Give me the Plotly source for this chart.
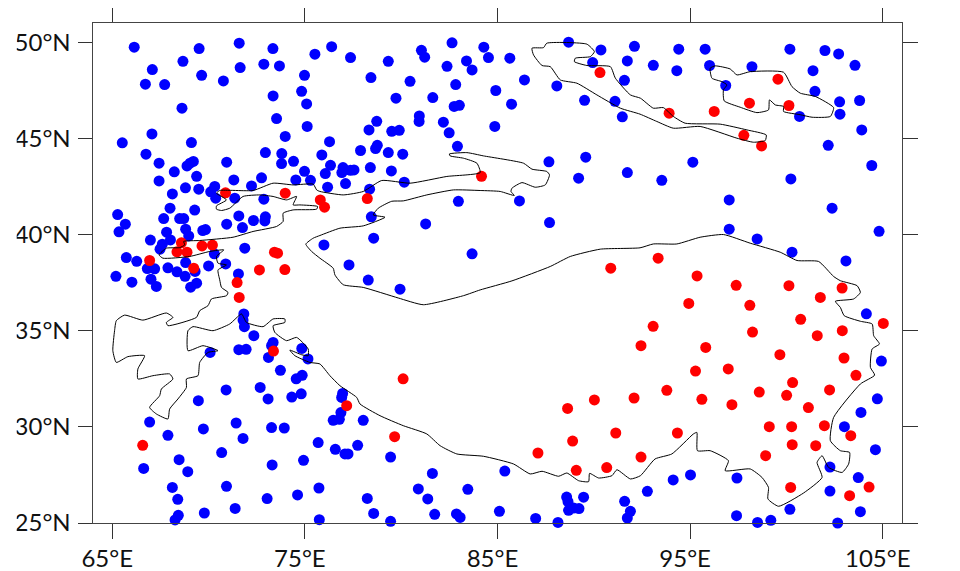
import plotly.graph_objects as go

blue_lon = [66.14,69.51,71.59,73.34,75.52,68.67,67.08,69.64,71.64,72.87,73.68,74.98,66.72,67.72,70.77,74.83,73.35,75.09,68.62,73.53,75.12,73.98,67.06,65.52,69.11,72.95,73.80,66.75,67.43,70.94,73.79,74.41,69.21,69.04,68.88,74.98,68.22,69.38,72.75,71.31,67.43,74.53,75.29,72.23,70.32,68.80,69.49,70.11,68.12,70.37,71.36,72.87,68.00,69.28,65.28,71.57,68.50,68.71,67.67,72.95,72.92,72.33,65.68,70.94,71.76,68.81,69.84,69.70,65.35,67.82,68.97,68.02,66.98,67.60,67.48,71.88,70.30,65.73,66.27,68.81,70.89,67.89,70.00,66.82,67.20,68.36,69.30,71.55,68.78,65.19,66.02,67.01,67.29,69.38,69.07,
76.39,77.37,79.33,81.05,81.22,82.64,84.29,84.53,85.64,82.38,83.39,83.68,78.43,80.46,82.83,84.91,86.40,79.73,81.64,82.75,83.02,85.73,88.08,88.69,90.37,89.94,92.11,91.74,91.59,89.52,91.10,91.48,80.94,80.93,82.19,82.49,84.86,78.73,78.33,79.51,79.90,82.92,76.28,75.88,77.89,78.76,78.67,79.33,80.08,89.58,87.67,89.21,91.74,76.33,76.06,76.98,76.92,77.37,77.55,78.40,79.49,77.11,76.18,80.16,78.36,82.97,86.14,78.45,81.27,87.70,78.57,75.99,83.68,77.29,78.29,79.94,
94.41,95.78,100.18,102.00,102.71,103.56,93.09,94.31,96.01,98.21,101.38,96.85,101.48,102.76,103.80,102.78,100.68,103.91,102.17,104.43,95.14,93.53,100.23,97.03,102.37,97.03,104.81,98.48,100.29,103.09,
71.83,71.79,71.86,72.35,73.35,73.27,73.11,71.57,71.95,70.08,74.84,75.16,73.73,74.86,74.55,72.68,70.91,73.09,74.81,74.32,69.47,66.94,71.43,73.27,73.93,69.73,67.89,71.79,75.69,70.68,68.47,74.93,73.30,66.63,68.92,68.12,70.93,75.73,68.40,74.62,73.04,71.38,69.78,68.43,68.26,75.75,
76.96,76.91,76.87,76.47,76.79,78.03,76.58,77.74,77.08,77.24,79.45,81.62,85.38,80.89,83.46,78.24,81.38,88.59,88.66,88.69,88.95,89.23,89.47,78.57,81.74,82.87,83.06,85.10,86.98,88.14,79.45,91.60,91.90,91.74,
104.15,104.93,104.72,103.87,103.01,104.62,102.26,103.73,97.43,95.02,94.12,92.78,102.26,100.18,103.84,97.41,99.19,98.50,102.66]
blue_lat = [49.74,49.67,49.95,49.67,49.38,49.01,48.58,48.28,48.68,48.86,48.77,48.28,47.82,47.80,47.99,47.45,47.21,46.79,46.57,46.03,45.62,45.10,45.23,44.77,44.78,44.26,44.21,44.18,43.71,43.76,43.69,43.81,43.80,43.71,43.57,43.29,43.26,43.03,42.95,42.84,42.79,42.84,42.82,42.53,42.50,42.43,42.36,42.22,42.11,41.89,41.89,41.84,41.37,41.27,41.04,40.97,40.83,40.83,40.83,40.92,40.71,40.73,40.54,40.54,40.36,40.28,40.26,40.21,40.14,40.12,39.93,39.72,39.71,39.50,39.24,39.29,39.00,38.80,38.61,38.54,38.47,38.27,38.37,38.23,38.22,38.06,38.08,37.95,37.83,37.83,37.52,37.68,37.30,37.47,37.26,
49.77,49.20,49.01,49.58,49.22,49.97,49.74,49.20,49.17,48.75,49.03,48.56,48.16,47.97,47.80,47.49,48.04,47.09,47.12,46.66,46.72,46.78,47.73,50.00,49.60,48.94,49.79,49.03,48.02,46.98,46.93,46.12,46.17,45.88,45.84,45.29,45.62,45.89,45.44,45.37,45.42,44.59,44.83,44.14,44.37,44.64,44.47,44.26,44.18,44.02,43.78,42.93,43.22,43.60,43.17,43.48,43.22,43.34,43.36,43.48,43.31,42.65,42.46,42.72,42.36,41.73,41.75,40.92,40.55,40.62,39.81,39.46,39.00,38.42,37.63,37.16,
49.64,49.64,49.64,49.57,49.39,48.80,48.80,48.52,48.79,48.73,48.52,47.75,47.45,46.90,46.97,46.26,46.14,45.44,44.64,43.59,43.76,42.82,42.89,41.80,41.37,40.28,40.17,39.77,39.08,38.63,
35.87,35.55,35.21,34.74,34.39,34.22,33.61,34.01,34.03,33.87,34.08,33.53,32.94,32.68,32.50,32.05,31.92,31.45,31.72,31.55,31.36,30.25,30.20,29.96,29.94,29.89,29.56,29.40,29.18,28.66,28.29,28.26,28.02,27.84,27.67,26.85,26.91,26.82,26.23,26.46,26.27,25.76,25.52,25.40,25.16,25.17,
31.74,31.53,30.74,30.34,30.39,30.34,28.83,29.04,28.59,28.59,28.43,27.58,27.70,26.77,26.75,26.28,26.25,26.35,26.11,25.66,25.78,25.75,26.34,25.50,25.45,25.47,25.29,25.61,25.24,25.03,25.09,26.13,25.61,25.26,
35.88,33.42,31.46,30.75,30.01,28.81,27.91,27.36,27.34,27.50,27.24,26.65,26.66,25.71,25.59,25.38,25.14,25.03,25.00]

red_lon = [70.88,73.98,75.80,76.02,68.59,69.66,70.20,68.36,68.88,73.42,73.58,66.94,69.23,72.64,73.96,71.48,84.17,78.24,90.32,90.88,
99.56,98.08,96.25,100.13,93.91,97.79,98.71,93.34,95.36,97.39,100.13,102.89,
71.59,73.37,66.58,80.10,77.17,79.66,88.64,90.03,92.09,92.45,91.14,88.90,87.10,89.09,90.67,92.45,
94.93,98.10,101.76,93.08,100.74,102.90,105.03,98.24,101.60,95.81,99.66,102.99,95.28,96.98,103.61,100.32,93.79,98.59,95.61,102.24,100.01,97.17,101.14,99.11,100.27,101.97,103.34,94.34,100.30,101.52,98.92,100.22,104.29,103.28]
red_lat = [42.17,42.15,41.80,41.42,39.57,39.41,39.45,39.10,39.08,39.08,39.03,38.65,38.25,38.16,38.18,37.50,43.03,41.87,48.42,38.25,
48.08,46.83,46.40,46.71,46.31,45.16,44.61,38.77,37.85,37.36,37.34,37.22,
36.73,33.94,29.04,32.50,31.10,29.49,30.96,31.40,31.50,34.22,29.68,29.26,28.64,27.74,27.88,28.43,
36.42,36.32,36.73,35.23,35.59,35.00,35.38,34.93,34.74,34.13,33.75,33.58,32.90,33.01,32.68,32.30,31.90,31.81,31.43,31.92,31.64,31.15,31.00,30.01,30.01,30.06,29.54,29.68,29.07,29.02,28.50,26.85,26.87,26.42]

main_lon = [75.78,76.82,78.03,79.16,78.55,78.81,79.51,80.11,81.33,82.71,84.10,85.14,85.87,85.70,85.75,86.27,86.96,87.48,87.70,87.56,86.79,86.35,84.27,83.41,82.50,82.54,83.23,83.93,84.10,82.37,80.46,78.99,78.03,76.99,75.78,75.61,75.43,74.39,73.35,72.31,70.58,70.41,70.93,70.41,70.41,70.67,71.10,71.79,72.66,73.35,74.05,74.57,74.39,74.74,75.66,75.61,74.39,73.87,73.87,73.53,72.31,71.27,69.54,68.71,68.76,68.50,67.81,67.43,67.63,69.02,70.06,70.79,70.41,70.49,70.93,70.49,70.58,70.67,71.01,70.93,70.15,69.97,69.54,69.37,67.89,67.81,68.15,67.81,66.59,65.64,65.21,65.12,65.03,65.21,65.81,66.68,66.33,66.33,67.11,67.98,68.15,67.55,67.46,66.94,67.29,67.89,67.98,68.41,68.85,68.85,69.45,69.54,69.97,70.49,69.71,68.93,68.93,69.19,70.23,71.10,71.71,71.97,72.83,73.35,73.96,73.96,73.35,73.44,74.05,74.57,75.17,75.17,74.83,74.22,74.48,75.26,75.78,76.30,76.82,77.69,77.86,78.90,80.11,81.33,82.02,82.89,84.27,85.83,86.70,87.31,88.17,88.60,89.21,89.73,89.78,90.25,90.94,91.20,91.90,92.42,93.18,94.05,95.17,95.35,95.38,96.04,96.99,96.82,98.12,98.73,99.07,99.04,99.59,100.89,101.85,101.59,101.85,102.19,102.89,103.23,103.28,102.80,102.28,102.45,103.84,104.58,104.36,104.45,104.83,104.53,104.45,103.84,103.00,102.80,102.54,103.49,103.84,103.67,102.80,102.45,101.67,100.55,99.68,98.12,96.73,95.52,94.31,93.09,92.40,90.34,88.78,87.74,85.75,84.10,83.23,81.15,79.85,78.03,76.99,76.56,76.47,75.78,75.35,75.05,75.43,75.78]
main_lat = [39.95,40.33,40.45,40.90,41.02,41.37,41.73,41.75,42.06,42.32,42.29,42.24,42.03,42.24,42.41,42.70,42.46,42.58,43.10,43.28,43.40,43.71,44.09,44.26,44.19,44.09,43.97,43.71,43.22,43.02,42.67,42.81,42.24,42.06,42.24,42.32,42.62,42.58,42.67,42.29,42.29,42.15,41.80,41.49,41.32,41.25,41.37,41.98,42.06,41.98,41.80,41.98,41.54,41.54,41.46,41.32,41.28,41.11,40.68,40.42,40.16,39.86,39.69,39.64,39.46,39.32,39.29,38.94,38.77,38.86,39.12,39.20,38.86,38.51,38.42,38.16,37.64,37.25,36.99,36.82,36.65,36.30,36.04,35.69,35.26,35.43,35.69,35.92,35.55,35.81,35.52,35.00,33.96,33.35,33.65,33.70,33.01,32.49,32.66,32.75,32.49,31.97,31.62,31.01,30.67,30.41,30.93,31.45,32.05,32.49,32.66,33.35,33.87,33.96,34.22,33.96,35.00,35.21,35.00,35.35,35.87,35.43,35.21,35.61,35.61,35.43,35.26,34.91,34.48,34.65,34.05,33.70,33.75,33.99,33.70,33.35,33.27,32.66,32.14,31.53,31.19,30.58,30.06,29.63,29.02,28.59,28.47,28.07,27.55,27.69,27.43,27.60,27.20,27.15,27.58,27.34,27.46,27.77,27.29,27.46,28.33,28.59,29.63,29.71,28.76,28.76,28.24,27.72,27.81,27.37,26.85,26.25,25.87,26.56,27.37,28.15,28.50,27.89,27.63,28.07,28.67,28.76,29.28,30.49,32.23,32.69,33.09,34.05,34.31,34.74,35.35,35.49,35.78,36.21,36.53,36.65,36.99,37.34,37.60,37.82,38.60,38.65,39.08,39.55,40.00,39.86,39.51,39.51,39.31,39.24,38.86,38.34,37.59,37.12,36.82,36.35,36.70,37.25,37.39,37.90,38.25,38.77,39.12,39.50,39.81,39.95]

band_lon = [86.79,87.39,87.56,89.64,90.03,89.82,89.04,88.99,89.64,90.86,91.12,91.90,92.42,93.09,93.61,94.13,94.74,96.56,97.95,98.95,98.90,98.29,97.43,95.52,94.13,93.27,92.40,91.38,90.16,89.12,88.26,87.74,87.31,86.87,86.79]
band_lat = [49.69,49.72,49.95,49.90,49.51,49.25,49.17,48.99,48.79,48.73,48.13,47.26,47.09,46.57,46.60,46.14,45.79,45.74,45.44,45.18,44.89,44.80,45.01,45.62,45.53,45.88,46.26,46.57,47.26,47.87,48.04,48.73,48.79,49.34,49.69]

east_lon = [96.04,96.30,97.08,97.43,98.12,99.85,100.29,100.72,101.50,102.45,102.28,101.33,100.72,99.85,99.85,99.42,99.12,99.07,98.47,97.60,96.77,96.73,96.91,96.65,96.13,96.04]
east_lat = [48.65,48.77,48.61,48.30,48.47,48.44,47.69,47.35,47.18,46.60,46.14,46.10,46.23,46.40,46.66,46.74,47.00,46.48,46.34,46.62,46.95,47.52,47.78,47.95,48.13,48.65]

lon_ticks = [65, 75, 85, 95, 105]
lon_labels = ["65°E", "75°E", "85°E", "95°E", "105°E"]
lat_ticks = [25, 30, 35, 40, 45, 50]
lat_labels = ["25°N", "30°N", "35°N", "40°N", "45°N", "50°N"]

fig = go.Figure()
for lon, lat, col in [(blue_lon, blue_lat, "#0000ff"), (red_lon, red_lat, "#ff0000")]:
    fig.add_trace(go.Scatter(x=lon, y=lat, mode="markers", cliponaxis=False,
                             marker=dict(color=col, size=11, line=dict(width=0)),
                             showlegend=False))
for lon, lat in [(main_lon, main_lat), (band_lon, band_lat), (east_lon, east_lat)]:
    fig.add_trace(go.Scatter(x=lon, y=lat, mode="lines", showlegend=False,
                             line=dict(color="black", width=1, shape="spline", smoothing=0.5)))

axis_style = dict(showgrid=False, zeroline=False, showline=True, mirror="ticks", automargin=False,
                  ticks="outside", ticklen=14.5, tickwidth=1, tickcolor="#333333",
                  linecolor="#444444", linewidth=1,
                  tickfont=dict(family="Lato, Carlito, sans-serif", size=24, color="#111111"))
fig.update_xaxes(range=[64, 106], tickvals=lon_ticks, ticktext=lon_labels, ticklabelshift=-5, **axis_style)
fig.update_yaxes(range=[25, 51], tickvals=lat_ticks, ticktext=lat_labels, ticklabelstandoff=2, **axis_style)
fig.update_layout(width=952, height=563, autosize=False, paper_bgcolor="white", plot_bgcolor="white",
                  margin=dict(l=85.3, r=58, t=15, b=47.7),
                  shapes=[dict(type="rect", xref="paper", yref="paper", x0=-0.1055, x1=-0.0943,
                               y0=-0.1, y1=1.03, fillcolor="white", line=dict(width=0), layer="above")])
fig.write_html("out.html")
